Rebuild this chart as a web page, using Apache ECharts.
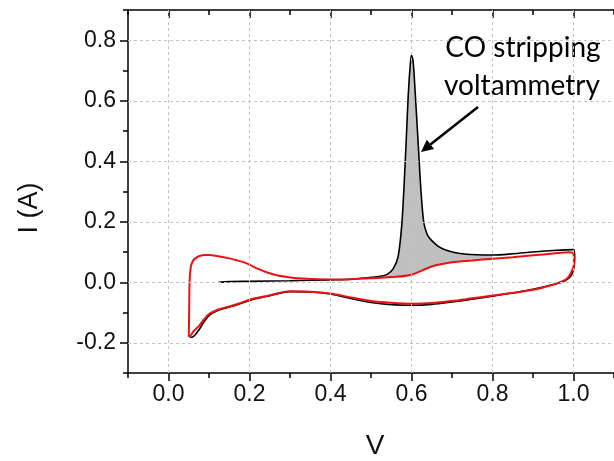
<!DOCTYPE html>
<html>
<head>
<meta charset="utf-8">
<script src="https://cdn.jsdelivr.net/npm/echarts@6/dist/echarts.min.js"></script>
<style>
html,body{margin:0;padding:0;background:#fff;}
#chart{width:614px;height:461px;}
</style>
</head>
<body>
<div id="chart"></div>
<script>
// Black curve: CO stripping scan (V, I)
const blackV = [0.123,0.15,0.2,0.3,0.4,0.45,0.5,0.52,0.54,0.555,0.567,0.576,0.582,0.587,0.592,0.597,0.600,0.604,0.609,0.616,0.623,0.630,0.638,0.645,0.66,0.673,0.69,0.72,0.76,0.8,0.85,0.9,0.95,1.0,
  1.003,1.0,0.993,0.98,0.96,0.9,0.85,0.8,0.75,0.7,0.65,0.6,0.55,0.5,0.45,0.4,0.35,0.3,0.244,0.2,0.17,0.15,0.123,0.1,0.087,0.075,0.065,0.058,0.052];
const blackI = [0.000,0.002,0.003,0.005,0.008,0.010,0.016,0.019,0.026,0.045,0.085,0.19,0.33,0.47,0.62,0.72,0.75,0.73,0.63,0.47,0.31,0.20,0.16,0.145,0.125,0.113,0.104,0.095,0.091,0.09,0.094,0.100,0.105,0.108,
  0.08,0.04,0.02,0.006,-0.004,-0.023,-0.035,-0.046,-0.056,-0.065,-0.073,-0.076,-0.074,-0.067,-0.054,-0.039,-0.032,-0.031,-0.046,-0.06,-0.074,-0.082,-0.093,-0.11,-0.132,-0.158,-0.175,-0.182,-0.18];
// Red curve: blank CV (closed loop)
const redV = [0.05,0.051,0.052,0.055,0.06,0.066,0.075,0.09,0.1,0.123,0.15,0.17,0.19,0.2,0.22,0.244,0.27,0.3,0.333,0.4,0.45,0.5,0.55,0.6,0.65,0.7,0.75,0.8,0.85,0.9,0.95,0.99,1.0,
  1.001,0.991,0.98,0.97,0.947,0.9,0.85,0.8,0.75,0.7,0.65,0.6,0.55,0.5,0.45,0.4,0.35,0.3,0.244,0.2,0.17,0.15,0.123,0.1,0.087,0.075,0.062,0.055,0.05];
const redI = [-0.18,-0.10,0.0,0.05,0.07,0.079,0.086,0.09,0.09,0.086,0.079,0.072,0.064,0.058,0.045,0.032,0.022,0.016,0.012,0.009,0.010,0.013,0.017,0.025,0.052,0.066,0.072,0.078,0.083,0.089,0.095,0.099,0.095,
  0.06,0.024,0.008,0.002,-0.009,-0.025,-0.035,-0.044,-0.053,-0.062,-0.069,-0.071,-0.068,-0.062,-0.05,-0.037,-0.031,-0.030,-0.045,-0.058,-0.072,-0.08,-0.09,-0.105,-0.124,-0.145,-0.162,-0.175,-0.18];
// Axis ticks
const xMajor = [0.0,0.2,0.4,0.6,0.8,1.0];
const yMajor = [-0.2,0.0,0.2,0.4,0.6,0.8];
const fillRange = [0.52, 0.84];

const blackPts = blackV.map((v,i)=>[v,blackI[i]]);
const redPts = redV.map((v,i)=>[v,redI[i]]);
function forward(pts){ let m=0; pts.forEach((p,i)=>{ if(p[0]>pts[m][0]) m=i; }); return pts.slice(0,m+1); }
const fillPts = forward(blackPts).filter(p=>p[0]>=fillRange[0]&&p[0]<=fillRange[1])
  .concat(forward(redPts).filter(p=>p[0]>=fillRange[0]&&p[0]<=fillRange[1]).reverse());

const chart = echarts.init(document.getElementById('chart'), null, {renderer:'canvas'});
const font = '"Liberation Sans", Arial, sans-serif';
const axisLine = {show:true, onZero:false, lineStyle:{color:'#000', width:1.5}};
const noLine = {show:false, onZero:false};
const fmt = v => v.toFixed(1);
const xBase = {type:'value', min:-0.1, max:1.1, interval:0.1, gridIndex:0, splitLine:{show:false}};
const yBase = {type:'value', min:-0.3, max:0.9, interval:0.1, gridIndex:0, splitLine:{show:false}};
const tickStyle = {color:'#000', width:1.5};
const gridMarks = xMajor.map(v=>({xAxis:v})).concat(yMajor.map(v=>({yAxis:v})));

chart.setOption({
  animation:false,
  backgroundColor:'#fff',
  grid:{left:128, top:10, right:-9, bottom:88, containLabel:false},
  xAxis:[
    Object.assign({}, xBase, {position:'bottom', axisLine,
      axisTick:{show:true, inside:false, length:8, lineStyle:tickStyle, customValues:xMajor},
      axisLabel:{show:true, customValues:xMajor, formatter:fmt, fontFamily:font, fontSize:23, color:'#111', margin:10}}),
    Object.assign({}, xBase, {position:'bottom', axisLine:noLine,
      axisTick:{show:true, inside:false, length:5, lineStyle:tickStyle}, axisLabel:{show:false}}),
    Object.assign({}, xBase, {position:'top', axisLine,
      axisTick:{show:true, inside:true, length:8, lineStyle:tickStyle, customValues:xMajor}, axisLabel:{show:false}}),
    Object.assign({}, xBase, {position:'top', axisLine:noLine,
      axisTick:{show:true, inside:true, length:5, lineStyle:tickStyle}, axisLabel:{show:false}})
  ],
  yAxis:[
    Object.assign({}, yBase, {position:'left', axisLine,
      axisTick:{show:true, inside:false, length:8, lineStyle:tickStyle, customValues:yMajor},
      axisLabel:{show:true, customValues:yMajor, formatter:fmt, fontFamily:font, fontSize:23, color:'#111', margin:12}}),
    Object.assign({}, yBase, {position:'left', axisLine:noLine,
      axisTick:{show:true, inside:false, length:5, lineStyle:tickStyle}, axisLabel:{show:false}})
  ],
  graphic:[
    {type:'text', x:30, y:208, rotation:Math.PI/2, style:{text:'I (A)', font:'27px "Liberation Sans", Arial, sans-serif', fill:'#111', align:'center', verticalAlign:'middle'}},
    {type:'text', x:375, y:446, style:{text:'V', font:'28px "Liberation Sans", Arial, sans-serif', fill:'#111', align:'center', verticalAlign:'middle'}},
    {type:'text', x:523, y:48, style:{text:'CO stripping', font:'28px Lato, "Open Sans", sans-serif', fill:'#000', align:'center', verticalAlign:'middle'}},
    {type:'text', x:522, y:86, style:{text:'voltammetry', font:'28px Lato, "Open Sans", sans-serif', fill:'#000', align:'center', verticalAlign:'middle'}},
    {type:'line', shape:{x1:478, y1:107, x2:430.4, y2:144.6}, style:{stroke:'#000', lineWidth:2.5}},
    {type:'polygon', shape:{points:[[421,152],[434,148.9],[426.8,139.8]]}, style:{fill:'#000'}}
  ],
  series:[
    {type:'line', name:'grid', data:[], xAxisIndex:0, yAxisIndex:0, z:0, silent:true,
      markLine:{silent:true, symbol:'none', animation:false, label:{show:false},
        lineStyle:{color:'#c4c4c4', type:[3,3], width:1}, emphasis:{disabled:true}, data:gridMarks}},
    {type:'custom', coordinateSystem:'cartesian2d', xAxisIndex:0, yAxisIndex:0, data:[[0.6,0.3]], z:1, silent:true,
      renderItem:(params, api)=>({type:'polygon', shape:{points:fillPts.map(p=>api.coord(p)), smooth:0.25},
        style:{fill:'#c0c0c0', stroke:'none'}})},
    {type:'line', name:'CO stripping', data:blackPts, xAxisIndex:0, yAxisIndex:0, showSymbol:false, smooth:0.3, z:3,
      lineStyle:{color:'#000', width:1.6}},
    {type:'line', name:'blank', data:redPts, xAxisIndex:0, yAxisIndex:0, showSymbol:false, smooth:0.3, z:4,
      lineStyle:{color:'#ee1111', width:2}}
  ]
});
</script>
</body>
</html>
